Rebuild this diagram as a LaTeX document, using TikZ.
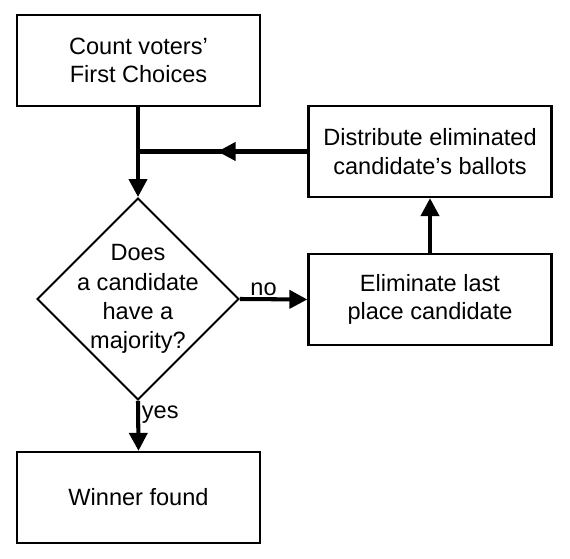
\documentclass[tikz,border=0pt]{standalone}
\usepackage{fontspec}
\setmainfont{Liberation Sans}
\usetikzlibrary{shapes.geometric,arrows.meta,decorations.markings}

\begin{document}
\begin{tikzpicture}[
  stepbox/.style={draw, line width=1.3pt, minimum width=4.86cm, minimum height=1.82cm, align=center, font=\fontsize{13.4}{16.2}\selectfont},
  choice/.style={draw, diamond, line width=1.1pt, minimum width=4.04cm, minimum height=4.04cm, inner sep=0pt},
  flow/.style={line width=2.3pt, -{Triangle[length=0.36cm,width=0.36cm]}},
  tag/.style={font=\fontsize{13.4}{16.2}\selectfont, inner sep=1pt}
]

%frame
\useasboundingbox (0,0) rectangle (11.4,-11.18);

%boxes
\node[stepbox] (count) at (2.77,-1.21) {Count voters’\\First Choices};

\node[stepbox] (distribute) at (8.6,-3.03) {Distribute eliminated\\candidate’s ballots};

\node[choice] (check) at (2.76,-5.98) {};
\node[align=center, font=\fontsize{13.4}{16.6}\selectfont] (checktext) at (check) {Does\\a candidate\\have a\\majority?};

\node[stepbox] (eliminate) at (8.6,-5.99) {Eliminate last\\place candidate};

\node[stepbox] (winner) at (2.77,-9.95) {Winner found};

%connectors
\coordinate (merge) at (check.north |- distribute.west);

\draw[flow] (count.south -| check.north) -- (check.north);

\draw[line width=2.3pt, postaction={decorate},
  decoration={markings, mark=at position 0.53 with {\arrow{Triangle[length=0.36cm,width=0.36cm]}}}]
  (distribute.west) -- (merge);

\draw[flow] (check.east) -- (eliminate.west) node[tag, pos=0.35, above] {no};

\draw[flow] (eliminate.north) -- (distribute.south);

\draw[flow] (check.south) -- (winner.north) node[tag, pos=0.27, right] {yes};

\end{tikzpicture}
\end{document}
